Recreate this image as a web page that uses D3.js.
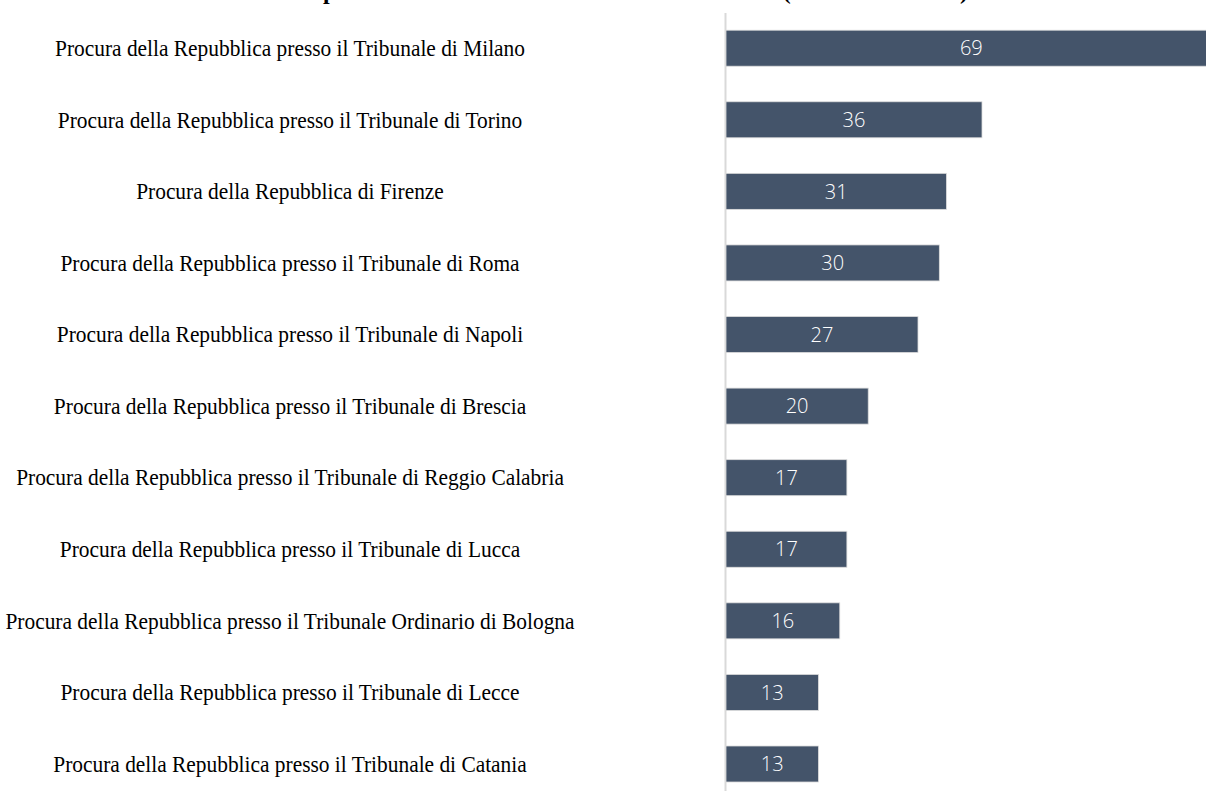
<!DOCTYPE html>
<html>
<head>
<meta charset="utf-8">
<script src="https://cdn.jsdelivr.net/npm/d3@7"></script>
<style>
  body { margin: 0; background: #fff; }
  svg { display: block; }
</style>
</head>
<body>
<div id="barChart"></div>
<script>
// procure, in the order shown top to bottom
var procure = [
  "Procura della Repubblica presso il Tribunale di Milano",
  "Procura della Repubblica presso il Tribunale di Torino",
  "Procura della Repubblica di Firenze",
  "Procura della Repubblica presso il Tribunale di Roma",
  "Procura della Repubblica presso il Tribunale di Napoli",
  "Procura della Repubblica presso il Tribunale di Brescia",
  "Procura della Repubblica presso il Tribunale di Reggio Calabria",
  "Procura della Repubblica presso il Tribunale di Lucca",
  "Procura della Repubblica presso il Tribunale Ordinario di Bologna",
  "Procura della Repubblica presso il Tribunale di Lecce",
  "Procura della Repubblica presso il Tribunale di Catania"
];
var valori = [69, 36, 31, 30, 27, 20, 17, 17, 16, 13, 13];
var titolo = "Istanze ricevute dalle prime 11 Procure italiane nel triennio scorso (in valori assoluti)";

function barChart(){
  var width = 1206,
      height = 791;

  var svg = d3.select("#barChart")
              .append("svg")
              .attr("width", width)
              .attr("height", height);

  var data = procure.map(function(p, i) { return {nome: p, valore: valori[i]}; });

  // x: 0 sits on the axis line, 36 ends at ~982
  var x = d3.scaleLinear().domain([0, 36]).range([726, 982]);

  var y = d3.scaleBand()
            .domain(procure)
            .range([12.3, 799.9])
            .paddingInner(0.497)
            .paddingOuter(0.25);

  // title, mostly cut off by the top of the picture
  svg.append("text")
     .attr("x", 968)
     .attr("y", -1)
     .attr("text-anchor", "end")
     .style("font-family", "'Liberation Serif', 'Times New Roman', serif")
     .style("font-weight", "bold")
     .style("font-size", "24px")
     .text(titolo);

  // vertical axis line
  svg.append("line")
     .attr("x1", 725.5).attr("x2", 725.5)
     .attr("y1", 13).attr("y2", height)
     .attr("stroke", "#d9d9d9")
     .attr("stroke-width", 2);

  svg.selectAll(".bar")
     .data(data)
     .enter().append("rect")
     .attr("class", "bar")
     .attr("x", x(0))
     .attr("y", function(d) { return y(d.nome); })
     .attr("width", function(d) { return x(d.valore) - x(0); })
     .attr("height", y.bandwidth())
     .attr("fill", "#44546a")
     .attr("stroke", "#dcdcdc")
     .attr("stroke-width", 0.8);

  svg.selectAll(".val")
     .data(data)
     .enter().append("text")
     .attr("class", "val")
     .attr("x", function(d) { return (x(0) + x(d.valore)) / 2; })
     .attr("y", function(d) { return y(d.nome) + y.bandwidth() / 2; })
     .attr("dy", "0.36em")
     .attr("text-anchor", "middle")
     .attr("fill", "#ffffff")
     .style("font-family", "'Open Sans', sans-serif")
     .style("font-weight", "300")
     .style("font-size", "20px")
     .text(function(d) { return d.valore; });

  // category labels: the source font is a narrow Times, so squeeze horizontally
  svg.selectAll(".nome")
     .data(data)
     .enter().append("text")
     .attr("class", "nome")
     .attr("transform", function(d) {
       return "translate(290," + (y(d.nome) + y.bandwidth() / 2) + ") scale(0.915,1)";
     })
     .attr("dy", "0.33em")
     .attr("text-anchor", "middle")
     .attr("fill", "#000")
     .style("font-family", "'Liberation Serif', 'Times New Roman', serif")
     .style("font-size", "23.4px")
     .text(function(d) { return d.nome; });
}

barChart();
</script>
</body>
</html>
